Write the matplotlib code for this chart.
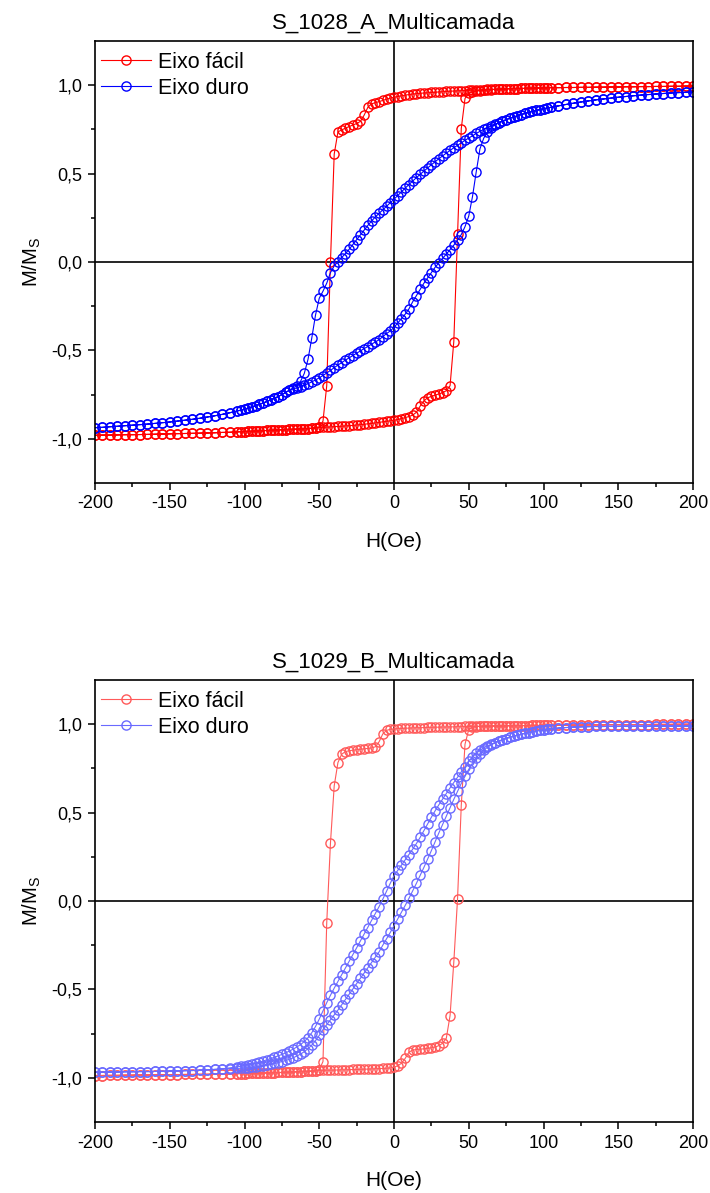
import matplotlib
matplotlib.use("Agg")
import matplotlib.pyplot as plt
from matplotlib.ticker import FixedLocator, FuncFormatter

plt.rcParams['font.family'] = ['Liberation Sans', 'DejaVu Sans']
plt.rcParams['axes.unicode_minus'] = False
plt.rcParams['mathtext.default'] = 'regular'

# ---------------- field sweep (Oe), from +200 down to -200 ----------------
H_HI = [200, 195, 190, 185, 180, 175, 170, 165, 160, 155,
        150, 145, 140, 135, 130, 125, 120, 115, 110, 105]
H_MID = [102.5, 100, 97.5, 95, 92.5, 90, 87.5, 85, 82.5, 80,
         77.5, 75, 72.5, 70, 67.5, 65, 62.5, 60, 57.5, 55,
         52.5, 50, 47.5, 45, 42.5, 40, 37.5, 35, 32.5, 30,
         27.5, 25, 22.5, 20, 17.5, 15, 12.5, 10, 7.5, 5,
         2.5, 0, -2.5, -5, -7.5, -10, -12.5, -15, -17.5, -20,
         -22.5, -25, -27.5, -30, -32.5, -35, -37.5, -40, -42.5, -45,
         -47.5, -50, -52.5, -55, -57.5, -60, -62.5, -65, -67.5, -70,
         -72.5, -75, -77.5, -80, -82.5, -85, -87.5, -90, -92.5, -95,
         -97.5, -100, -102.5]
H_LO = [-105, -110, -115, -120, -125, -130, -135, -140, -145, -150,
        -155, -160, -165, -170, -175, -180, -185, -190, -195, -200]
H_DOWN = H_HI + H_MID + H_LO

# All M/Ms lists below are given at the H_DOWN fields (+200 -> -200).
# ---------------- S_1028_A ----------------
A_RED_HI = [0.995, 0.995, 0.994, 0.994, 0.993, 0.993, 0.992, 0.992, 0.991, 0.991,
            0.990, 0.990, 0.989, 0.989, 0.988, 0.988, 0.987, 0.987, 0.986, 0.986]
A_RED_DOWN_MID = [
    0.985, 0.985, 0.984, 0.984, 0.983, 0.983, 0.982, 0.982, 0.981, 0.981,
    0.980, 0.979, 0.979, 0.978, 0.977, 0.977, 0.976, 0.975, 0.974, 0.973,
    0.972, 0.971, 0.970, 0.969, 0.968, 0.967, 0.966, 0.965, 0.963, 0.962,
    0.960, 0.959, 0.957, 0.956, 0.954, 0.952, 0.950, 0.947, 0.944, 0.940,
    0.936, 0.932, 0.927, 0.921, 0.914, 0.907, 0.901, 0.895, 0.875, 0.830,
    0.795, 0.783, 0.775, 0.766, 0.757, 0.747, 0.736, 0.610, 0.000, -0.700,
    -0.900, -0.935, -0.938, -0.940, -0.942, -0.943, -0.944, -0.945, -0.946, -0.947,
    -0.948, -0.949, -0.950, -0.951, -0.952, -0.953, -0.954, -0.955, -0.956, -0.957,
    -0.958, -0.959, -0.960]
A_RED_UP_MID = [
    0.985, 0.985, 0.984, 0.984, 0.983, 0.983, 0.982, 0.982, 0.981, 0.981,
    0.980, 0.979, 0.978, 0.977, 0.976, 0.975, 0.973, 0.971, 0.969, 0.966,
    0.962, 0.955, 0.925, 0.755, 0.160, -0.450, -0.700, -0.728, -0.739, -0.746,
    -0.753, -0.760, -0.768, -0.785, -0.815, -0.850, -0.866, -0.874, -0.880, -0.886,
    -0.891, -0.895, -0.898, -0.901, -0.904, -0.907, -0.910, -0.913, -0.915, -0.918,
    -0.920, -0.922, -0.924, -0.926, -0.927, -0.929, -0.930, -0.931, -0.933, -0.934,
    -0.935, -0.936, -0.938, -0.940, -0.942, -0.943, -0.944, -0.945, -0.946, -0.947,
    -0.948, -0.949, -0.950, -0.951, -0.952, -0.953, -0.954, -0.955, -0.956, -0.957,
    -0.958, -0.959, -0.960]
A_RED_LO = [-0.961, -0.963, -0.964, -0.966, -0.967, -0.968, -0.969, -0.970, -0.971, -0.972,
            -0.973, -0.974, -0.975, -0.976, -0.977, -0.977, -0.978, -0.979, -0.979, -0.980]

A_BLUE_HI = [0.962, 0.960, 0.958, 0.956, 0.953, 0.950, 0.947, 0.944, 0.940, 0.936,
             0.932, 0.927, 0.922, 0.917, 0.911, 0.905, 0.898, 0.891, 0.883, 0.875]
A_BLUE_DOWN_MID = [
    0.871, 0.867, 0.862, 0.857, 0.852, 0.846, 0.840, 0.834, 0.827, 0.820,
    0.813, 0.805, 0.797, 0.788, 0.779, 0.770, 0.760, 0.750, 0.739, 0.727,
    0.714, 0.701, 0.688, 0.674, 0.660, 0.646, 0.631, 0.616, 0.600, 0.584,
    0.567, 0.550, 0.532, 0.514, 0.496, 0.477, 0.458, 0.438, 0.418, 0.397,
    0.376, 0.355, 0.335, 0.315, 0.295, 0.275, 0.255, 0.232, 0.207, 0.180,
    0.152, 0.125, 0.098, 0.072, 0.048, 0.025, 0.002, -0.022, -0.060, -0.120,
    -0.165, -0.205, -0.300, -0.430, -0.550, -0.630, -0.675, -0.700, -0.712, -0.725,
    -0.738, -0.750, -0.761, -0.771, -0.780, -0.789, -0.797, -0.805, -0.812, -0.819,
    -0.826, -0.832, -0.838]
A_BLUE_UP_MID = [
    0.871, 0.867, 0.862, 0.857, 0.852, 0.846, 0.840, 0.834, 0.827, 0.820,
    0.813, 0.805, 0.797, 0.786, 0.775, 0.760, 0.735, 0.700, 0.640, 0.510,
    0.370, 0.260, 0.200, 0.155, 0.125, 0.095, 0.070, 0.045, 0.020, -0.005,
    -0.030, -0.060, -0.090, -0.120, -0.155, -0.190, -0.225, -0.265, -0.295, -0.320,
    -0.345, -0.370, -0.390, -0.405, -0.422, -0.440, -0.452, -0.465, -0.478, -0.490,
    -0.503, -0.516, -0.529, -0.542, -0.555, -0.569, -0.583, -0.598, -0.613, -0.628,
    -0.642, -0.655, -0.667, -0.678, -0.688, -0.697, -0.705, -0.712, -0.718, -0.726,
    -0.738, -0.750, -0.761, -0.771, -0.780, -0.789, -0.797, -0.805, -0.812, -0.819,
    -0.826, -0.832, -0.838]
A_BLUE_LO = [-0.843, -0.853, -0.862, -0.870, -0.877, -0.884, -0.890, -0.895, -0.900, -0.905,
             -0.909, -0.913, -0.917, -0.920, -0.923, -0.926, -0.929, -0.932, -0.935, -0.937]

# ---------------- S_1029_B ----------------
B_RED_HI = [1.000, 1.000, 1.000, 0.999, 0.999, 0.999, 0.998, 0.998, 0.998, 0.997,
            0.997, 0.997, 0.996, 0.996, 0.996, 0.995, 0.995, 0.995, 0.994, 0.994]
B_RED_DOWN_MID = [
    0.994, 0.993, 0.993, 0.993, 0.993, 0.992, 0.992, 0.992, 0.992, 0.991,
    0.991, 0.991, 0.990, 0.990, 0.990, 0.989, 0.989, 0.989, 0.988, 0.988,
    0.988, 0.987, 0.987, 0.986, 0.986, 0.985, 0.985, 0.984, 0.984, 0.983,
    0.983, 0.982, 0.982, 0.981, 0.980, 0.980, 0.979, 0.978, 0.977, 0.976,
    0.975, 0.973, 0.971, 0.965, 0.945, 0.900, 0.872, 0.866, 0.863, 0.861,
    0.858, 0.856, 0.853, 0.850, 0.845, 0.830, 0.783, 0.651, 0.328, -0.124,
    -0.908, -0.955, -0.960, -0.962, -0.963, -0.964, -0.965, -0.966, -0.967, -0.968,
    -0.969, -0.970, -0.970, -0.971, -0.972, -0.972, -0.973, -0.974, -0.974, -0.975,
    -0.975, -0.976, -0.976]
B_RED_UP_MID = [
    0.994, 0.993, 0.993, 0.993, 0.993, 0.992, 0.992, 0.992, 0.992, 0.991,
    0.991, 0.991, 0.990, 0.990, 0.990, 0.989, 0.989, 0.988, 0.988, 0.986,
    0.982, 0.970, 0.887, 0.542, 0.011, -0.346, -0.648, -0.776, -0.805, -0.818,
    -0.826, -0.830, -0.833, -0.836, -0.838, -0.840, -0.843, -0.855, -0.890, -0.918,
    -0.932, -0.940, -0.944, -0.946, -0.947, -0.948, -0.949, -0.950, -0.951, -0.951,
    -0.952, -0.953, -0.953, -0.954, -0.955, -0.955, -0.956, -0.956, -0.957, -0.957,
    -0.958, -0.958, -0.960, -0.962, -0.963, -0.964, -0.965, -0.966, -0.967, -0.968,
    -0.969, -0.970, -0.970, -0.971, -0.972, -0.972, -0.973, -0.974, -0.974, -0.975,
    -0.975, -0.976, -0.976]
B_RED_LO = [-0.977, -0.978, -0.978, -0.979, -0.980, -0.980, -0.981, -0.981, -0.982, -0.982,
            -0.983, -0.983, -0.984, -0.984, -0.985, -0.985, -0.986, -0.986, -0.987, -0.987]

B_BLUE_HI = [0.990, 0.990, 0.990, 0.990, 0.990, 0.990, 0.989, 0.989, 0.989, 0.989,
             0.988, 0.988, 0.987, 0.987, 0.986, 0.985, 0.984, 0.981, 0.978, 0.974]
B_BLUE_DOWN_MID = [
    0.971, 0.968, 0.965, 0.961, 0.957, 0.953, 0.948, 0.943, 0.938, 0.932,
    0.926, 0.919, 0.912, 0.904, 0.896, 0.887, 0.877, 0.866, 0.852, 0.835,
    0.815, 0.790, 0.760, 0.730, 0.700, 0.670, 0.640, 0.608, 0.576, 0.544,
    0.510, 0.474, 0.436, 0.398, 0.360, 0.325, 0.293, 0.263, 0.233, 0.203,
    0.173, 0.143, 0.100, 0.055, 0.010, -0.032, -0.071, -0.110, -0.150, -0.189,
    -0.227, -0.265, -0.303, -0.341, -0.379, -0.417, -0.455, -0.493, -0.533, -0.575,
    -0.622, -0.668, -0.710, -0.745, -0.773, -0.795, -0.812, -0.826, -0.838, -0.849,
    -0.859, -0.868, -0.876, -0.884, -0.891, -0.898, -0.905, -0.911, -0.917, -0.922,
    -0.927, -0.931, -0.935]
B_BLUE_DOWN_LO = [-0.938, -0.944, -0.949, -0.952, -0.955, -0.957, -0.959, -0.960, -0.961, -0.962,
                  -0.963, -0.964, -0.965, -0.965, -0.966, -0.966, -0.967, -0.967, -0.968, -0.968]
B_BLUE_UP_MID = [
    0.971, 0.968, 0.965, 0.961, 0.957, 0.953, 0.948, 0.943, 0.938, 0.932,
    0.926, 0.919, 0.912, 0.904, 0.894, 0.883, 0.869, 0.853, 0.834, 0.810,
    0.780, 0.745, 0.705, 0.665, 0.620, 0.575, 0.528, 0.480, 0.432, 0.385,
    0.335, 0.285, 0.237, 0.190, 0.145, 0.100, 0.057, 0.015, -0.025, -0.065,
    -0.103, -0.140, -0.178, -0.214, -0.250, -0.288, -0.318, -0.348, -0.378, -0.408,
    -0.437, -0.467, -0.497, -0.527, -0.557, -0.587, -0.617, -0.645, -0.672, -0.699,
    -0.727, -0.760, -0.790, -0.815, -0.835, -0.852, -0.866, -0.877, -0.887, -0.895,
    -0.902, -0.908, -0.914, -0.919, -0.924, -0.928, -0.932, -0.935, -0.938, -0.941,
    -0.943, -0.945, -0.946]
B_BLUE_UP_LO = [-0.947, -0.949, -0.951, -0.953, -0.955, -0.957, -0.959, -0.960, -0.961, -0.962,
                -0.963, -0.964, -0.965, -0.965, -0.966, -0.966, -0.967, -0.967, -0.968, -0.968]

TITLES = ["S_1028_A_Multicamada", "S_1029_B_Multicamada"]
LABELS = ["Eixo fácil", "Eixo duro"]
X_TICKS = [-200, -150, -100, -50, 0, 50, 100, 150, 200]
X_MINOR = [-175, -125, -75, -25, 25, 75, 125, 175]
Y_TICKS = [-1.0, -0.5, 0.0, 0.5, 1.0]
Y_MINOR = [-0.75, -0.25, 0.25, 0.75]

panels = [
    dict(title=TITLES[0],
         red_down=A_RED_HI + A_RED_DOWN_MID + A_RED_LO,
         red_up=A_RED_HI + A_RED_UP_MID + A_RED_LO,
         blue_down=A_BLUE_HI + A_BLUE_DOWN_MID + A_BLUE_LO,
         blue_up=A_BLUE_HI + A_BLUE_UP_MID + A_BLUE_LO,
         red_c='#FF0000', blue_c='#0000FF'),
    dict(title=TITLES[1],
         red_down=B_RED_HI + B_RED_DOWN_MID + B_RED_LO,
         red_up=B_RED_HI + B_RED_UP_MID + B_RED_LO,
         blue_down=B_BLUE_HI + B_BLUE_DOWN_MID + B_BLUE_DOWN_LO,
         blue_up=B_BLUE_HI + B_BLUE_UP_MID + B_BLUE_UP_LO,
         red_c='#FF5A5A', blue_c='#6A6AFF'),
]
for p in panels:
    for k in ('red_down', 'red_up', 'blue_down', 'blue_up'):
        assert len(p[k]) == len(H_DOWN), (p['title'], k, len(p[k]))

W, Hpx = 710, 1193
fig = plt.figure(figsize=(W / 100, Hpx / 100), dpi=100)
ax_rects = [
    [95 / W, 1 - 483 / Hpx, 598 / W, 442 / Hpx],
    [95 / W, 1 - 1122 / Hpx, 598 / W, 442 / Hpx],
]

h_loop = H_DOWN + H_DOWN[::-1]
for rect, p in zip(ax_rects, panels):
    ax = fig.add_axes(rect)
    ax.axhline(0, color='black', lw=1.2, zorder=1)
    ax.axvline(0, color='black', lw=1.2, zorder=1)
    ax.plot(h_loop, p['red_down'] + p['red_up'][::-1], '-o', color=p['red_c'],
            lw=0.8, ms=6.6, mfc='none', mew=1.0, label=LABELS[0], zorder=2)
    ax.plot(h_loop, p['blue_down'] + p['blue_up'][::-1], '-o', color=p['blue_c'],
            lw=0.8, ms=6.6, mfc='none', mew=1.0, label=LABELS[1], zorder=2)
    ax.set_xlim(-200, 200)
    ax.set_ylim(-1.25, 1.25)
    ax.xaxis.set_major_locator(FixedLocator(X_TICKS))
    ax.xaxis.set_minor_locator(FixedLocator(X_MINOR))
    ax.yaxis.set_major_locator(FixedLocator(Y_TICKS))
    ax.yaxis.set_minor_locator(FixedLocator(Y_MINOR))
    ax.yaxis.set_major_formatter(FuncFormatter(lambda v, pos: f"{v:.1f}".replace('.', ',')))
    ax.tick_params(which='major', direction='out', length=5, width=1.1,
                   labelsize=13, pad=4, top=False, right=False)
    ax.tick_params(which='minor', direction='out', length=3.2, width=1.1,
                   top=False, right=False)
    for s in ax.spines.values():
        s.set_linewidth(1.2)
    ax.set_title(p['title'], fontsize=16, pad=9)
    ax.set_xlabel('H(Oe)', fontsize=15, labelpad=14)
    ax.set_ylabel('M/M$_S$', fontsize=14.5, labelpad=6)
    ax.legend(loc='upper left', bbox_to_anchor=(-0.002, 0.993), frameon=False,
              fontsize=15.5, handlelength=2.3, handletextpad=0.35,
              labelspacing=0.25, borderpad=0.35, borderaxespad=0.0, numpoints=1)

fig.savefig('out.png', dpi=100)
